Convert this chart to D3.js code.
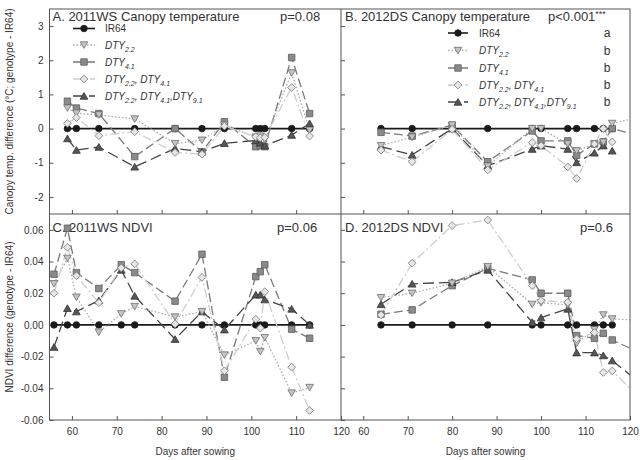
<!DOCTYPE html>
<html><head><meta charset="utf-8">
<script src="https://cdn.jsdelivr.net/npm/d3@7"></script>
<style>
body{margin:0;background:#fff}
text{font-family:Arial,"Liberation Sans",sans-serif;fill:#333}
</style>
</head><body>
<svg id="chart" width="640" height="460"></svg>
<script>
// ---------------- DATA ----------------
const seriesNames = ["IR64", "DTY2.2", "DTY4.1", "DTY2.2, DTY4.1", "DTY2.2, DTY4.1, DTY9.1"];
const sigLetters2012CT = ["a", "b", "b", "b", "b"];

// A. 2011WS canopy temperature
const daysWS_CT = [59, 61, 66, 74, 83, 89, 94, 101, 102, 103, 109, 113];
const ctWS_IR64 = [0, 0, 0, 0, 0, 0, 0, 0, 0, 0, 0, 0];
const ctWS_DTY22 = [0.6, 0.45, 0.4, 0.28, -0.44, -0.34, 0.1, -0.25, -0.22, -0.33, 1.63, -0.05];
const ctWS_DTY41 = [0.8, 0.6, 0.44, -0.82, 0.0, -0.68, 0.2, -0.53, -0.5, -0.53, 2.08, 0.44];
const ctWS_DTY22_41 = [0.15, 0.32, -0.21, -0.09, -0.7, -0.75, 0.07, -0.24, -0.27, -0.26, 1.2, -0.22];
const ctWS_DTY22_41_91 = [-0.29, -0.63, -0.54, -1.12, -0.58, -0.68, -0.43, -0.35, -0.42, -0.5, -0.19, 0.15];

// B. 2012DS canopy temperature
const daysDS = [64, 71, 80, 88, 98, 100, 106, 108, 112, 114, 116, 122];
const ctDS_IR64 = [0, 0, 0, 0, 0, 0, 0, 0, 0, 0, 0, null];
const ctDS_DTY22 = [-0.5, -0.25, 0.1, -1.1, 0.0, 0.0, -0.45, -0.65, -0.45, -0.4, 0.15, 0.33];
const ctDS_DTY41 = [-0.11, -0.22, 0.1, -0.97, -0.07, -0.36, -0.36, -0.78, -0.45, -0.39, 0.0, -0.21];
const ctDS_DTY22_41 = [-0.63, -0.97, -0.02, -1.21, -0.41, -0.5, -1.12, -1.46, -0.45, 0.0, -0.39, null];
const ctDS_DTY22_41_91 = [-0.53, -0.77, 0.0, -1.09, -0.6, -0.5, -0.6, -0.99, -0.71, -0.5, -0.65, null];

// C. 2011WS NDVI
const daysWS_ND = [56, 59, 61, 66, 71, 74, 83, 89, 94, 101, 102, 103, 109, 113];
const ndWS_IR64 = [0, 0, 0, 0, 0, 0, 0, 0, 0, 0, 0, 0, 0, 0];
const ndWS_DTY22 = [0.026, 0.042, 0.0175, -0.0046, 0.007, 0.0116, 0.005, 0.0084, -0.019, -0.01, -0.0168, -0.008, -0.043, -0.0395];
const ndWS_DTY41 = [0.032, 0.061, 0.033, 0.023, 0.038, 0.033, 0.015, 0.0446, -0.033, 0.0305, 0.0336, 0.038, -0.0027, -0.0084];
const ndWS_DTY22_41 = [0.020, 0.049, 0.031, 0.014, 0.036, 0.0385, 0.0006, 0.030, -0.029, 0.0036, -0.002, 0.021, -0.0267, -0.054];
const ndWS_DTY22_41_91 = [-0.014, 0.0105, 0.0084, 0.0154, 0.0347, 0.0183, -0.009, 0.0084, -0.003, 0.019, 0.019, 0.016, 0.0101, 0.0];

// D. 2012DS NDVI
const ndDS_IR64 = [0, 0, 0, 0, 0, 0, 0, 0, 0, 0, 0, null];
const ndDS_DTY22 = [0.0172, 0.020, 0.0263, 0.0368, 0.013, 0.014, 0.0126, -0.0116, -0.003, 0.0063, 0.0038, 0.003];
const ndDS_DTY41 = [0.0067, 0.0095, 0.0248, 0.0357, 0.0284, 0.020, 0.020, -0.0067, -0.0084, -0.0053, -0.0095, -0.0173];
const ndDS_DTY22_41 = [0.0063, 0.0389, 0.0627, 0.0662, 0.0248, 0.0154, 0.0143, -0.0088, -0.0048, -0.030, -0.029, -0.0455];
const ndDS_DTY22_41_91 = [0.013, 0.0259, 0.0269, 0.0347, 0.0017, 0.0046, 0.0101, -0.0175, -0.0175, -0.0193, -0.0225, -0.036];

const xTicks = [60, 70, 80, 90, 100, 110, 120];
const ctTicks = [-2, -1, 0, 1, 2, 3];
const ndTicks = [-0.06, -0.04, -0.02, 0, 0.02, 0.04, 0.06];

// ---------------- STYLES ----------------
const styles = [
  {line: "#1a1a1a", dash: null, lw: 1.6, sym: d3.symbolCircle, size: 34, fill: "#1a1a1a", stroke: "#1a1a1a", rot: 0, dy: 0},
  {line: "#ababab", dash: "1.5,2", lw: 1.3, sym: d3.symbolTriangle, size: 25, fill: "#c4c4c4", stroke: "#6e6e6e", rot: 180, dy: -1},
  {line: "#7a7a7a", dash: "9,4", lw: 1.3, sym: d3.symbolSquare, size: 42, fill: "#8a8a8a", stroke: "#5e5e5e", rot: 0, dy: 0},
  {line: "#cdcdcd", dash: "9,3,2,3", lw: 1.3, sym: d3.symbolSquare, size: 30, fill: "#e6e6e6", stroke: "#7e7e7e", rot: 45, dy: 0},
  {line: "#444", dash: "11,5", lw: 1.3, sym: d3.symbolTriangle, size: 26, fill: "#565656", stroke: "#333", rot: 0, dy: 1}
];
const drawOrder = [0, 2, 4, 1, 3];

// ---------------- LAYOUT ----------------
const svg = d3.select("#chart");
const X0 = 49.5, XM = 341, X1 = 630;
const Y0 = 9, YM = 214, Y1 = 420;

const panels = [
  {id: "A", x: [X0, XM], y: [Y0, YM], dom: [-2.5, 3.5], days: daysWS_CT,
   data: [ctWS_IR64, ctWS_DTY22, ctWS_DTY41, ctWS_DTY22_41, ctWS_DTY22_41_91],
   yTicks: ctTicks, yLabels: true, xLabels: false,
   title: "A. 2011WS Canopy temperature", p: "p=0.08", px: 280},
  {id: "B", x: [XM, X1], y: [Y0, YM], dom: [-2.5, 3.5], days: daysDS,
   data: [ctDS_IR64, ctDS_DTY22, ctDS_DTY41, ctDS_DTY22_41, ctDS_DTY22_41_91],
   yTicks: ctTicks, yLabels: false, xLabels: false,
   title: "B. 2012DS Canopy temperature", p: "p<0.001", pstar: "***", px: 548},
  {id: "C", x: [X0, XM], y: [YM, Y1], dom: [-0.06, 0.07], days: daysWS_ND,
   data: [ndWS_IR64, ndWS_DTY22, ndWS_DTY41, ndWS_DTY22_41, ndWS_DTY22_41_91],
   yTicks: ndTicks, yLabels: true, xLabels: true,
   title: "C. 2011WS NDVI", p: "p=0.06", px: 277},
  {id: "D", x: [XM, X1], y: [YM, Y1], dom: [-0.06, 0.07], days: daysDS,
   data: [ndDS_IR64, ndDS_DTY22, ndDS_DTY41, ndDS_DTY22_41, ndDS_DTY22_41_91],
   yTicks: ndTicks, yLabels: false, xLabels: true,
   title: "D. 2012DS NDVI", p: "p=0.6", px: 580}
];

function markerTransform(s, px, py) {
  return `translate(${px},${py + s.dy}) rotate(${s.rot})`;
}

panels.forEach(P => {
  const x = d3.scaleLinear().domain([55, 120]).range(P.x);
  const y = d3.scaleLinear().domain(P.dom).range([P.y[1], P.y[0]]);
  const g = svg.append("g");

  svg.append("clipPath").attr("id", "clip" + P.id).append("rect")
    .attr("x", P.x[0]).attr("y", P.y[0]).attr("width", P.x[1] - P.x[0]).attr("height", P.y[1] - P.y[0]);

  // axes
  const xa = g.append("g").attr("transform", `translate(0,${P.y[1]})`)
    .call(d3.axisBottom(x).tickValues(P.xLabels ? xTicks : xTicks.slice(0, 6)).tickSizeInner(-4).tickSizeOuter(0).tickPadding(8)
      .tickFormat(P.xLabels ? d3.format("d") : ""));
  xa.select(".domain").remove();
  xa.selectAll("line").attr("stroke", "#555");
  xa.selectAll("text").attr("font-size", 10).attr("fill", "#333").style("font-family", "Arial, 'Liberation Sans', sans-serif");

  const ya = g.append("g").attr("transform", `translate(${P.x[0]},0)`)
    .call(d3.axisLeft(y).tickValues(P.yTicks).tickSizeInner(-4).tickSizeOuter(0).tickPadding(6)
      .tickFormat(P.yLabels ? (P.dom[1] < 1 ? (d => d.toFixed(2)) : (d => String(d))) : ""));
  ya.select(".domain").remove();
  ya.selectAll("line").attr("stroke", "#555");
  ya.selectAll("text").attr("font-size", 10).attr("fill", "#333").style("font-family", "Arial, 'Liberation Sans', sans-serif");

  const plot = g.append("g").attr("clip-path", `url(#clip${P.id})`);
  const line = d3.line().defined(d => d[1] !== null).x(d => x(d[0])).y(d => y(d[1]));

  drawOrder.forEach(si => {
    const pts = P.days.map((d, i) => [d, P.data[si][i]]);
    const s = styles[si];
    plot.append("path").datum(pts).attr("d", line).attr("fill", "none")
      .attr("stroke", s.line).attr("stroke-width", s.lw).attr("stroke-dasharray", s.dash);
  });
  drawOrder.forEach(si => {
    const pts = P.days.map((d, i) => [d, P.data[si][i]]).filter(d => d[1] !== null);
    const s = styles[si];
    plot.selectAll(null).data(pts).enter().append("path")
      .attr("d", d3.symbol().type(s.sym).size(s.size))
      .attr("transform", d => markerTransform(s, x(d[0]), y(d[1])))
      .attr("fill", s.fill).attr("stroke", s.stroke).attr("stroke-width", 0.8);
  });

  // titles
  const ty = P.y[0] + (P.id === "A" || P.id === "B" ? 11.5 : 18);
  g.append("text").attr("x", P.x[0] + (P.id === "B" || P.id === "D" ? 4 : 3)).attr("y", ty)
    .attr("font-size", 13).text(P.title);
  const pt = g.append("text").attr("x", P.px).attr("y", ty).attr("font-size", 13).text(P.p);
  if (P.pstar) pt.append("tspan").attr("font-size", 9).attr("dy", -4).text(P.pstar);
});

// frame
const frame = svg.append("g").attr("stroke", "#555").attr("stroke-width", 1).attr("fill", "none");
frame.append("rect").attr("x", X0).attr("y", Y0).attr("width", X1 - X0).attr("height", Y1 - Y0);
frame.append("line").attr("x1", XM).attr("x2", XM).attr("y1", Y0).attr("y2", Y1);
frame.append("line").attr("x1", X0).attr("x2", X1).attr("y1", YM).attr("y2", YM);

// legends
function labelText(sel, name) {
  if (name === "IR64") { sel.text(name); return; }
  const parts = name.split(",").map(s => s.trim());
  parts.forEach((p, i) => {
    const sub = p.replace("DTY", "");
    const pre = i === 0 ? "DTY" : (i === 2 ? ",DTY" : ", DTY");
    sel.append("tspan").attr("font-style", "italic").attr("dy", i === 0 ? 0 : -3).text(pre);
    sel.append("tspan").attr("font-style", "italic").attr("font-size", 7).attr("dy", 3).text(sub);
  });
}
function legend(rows, lx0, lx1, tx, letters, lettersX) {
  seriesNames.forEach((name, i) => {
    const s = styles[i];
    const cy = rows[i];
    svg.append("line").attr("x1", lx0).attr("x2", lx1).attr("y1", cy).attr("y2", cy)
      .attr("stroke", s.line).attr("stroke-width", s.lw).attr("stroke-dasharray", s.dash);
    svg.append("path").attr("d", d3.symbol().type(s.sym).size(s.size)())
      .attr("transform", markerTransform(s, (lx0 + lx1) / 2, cy))
      .attr("fill", s.fill).attr("stroke", s.stroke).attr("stroke-width", 0.8);
    const t = svg.append("text").attr("x", tx).attr("y", cy + 3.5).attr("font-size", 10);
    labelText(t, name);
    if (letters) {
      svg.append("text").attr("x", lettersX).attr("y", cy + 4).attr("font-size", 12)
        .attr("text-anchor", "middle").text(letters[i]);
    }
  });
}
legend([28.5, 45, 62, 79, 96], 73, 95, 105, null, 0);
legend([33, 50.5, 68, 85, 102], 448, 468, 479, sigLetters2012CT, 607);

// axis titles
svg.append("text").attr("transform", "translate(13,111.5) rotate(-90)").attr("text-anchor", "middle")
  .attr("font-size", 10).text("Canopy temp. difference (°C; genotype - IR64)");
svg.append("text").attr("transform", "translate(13,317) rotate(-90)").attr("text-anchor", "middle")
  .attr("font-size", 10).text("NDVI difference (genotype - IR64)");
svg.append("text").attr("x", (X0 + XM) / 2).attr("y", 455).attr("text-anchor", "middle")
  .attr("font-size", 10).text("Days after sowing");
svg.append("text").attr("x", (XM + X1) / 2).attr("y", 455).attr("text-anchor", "middle")
  .attr("font-size", 10).text("Days after sowing");
</script>
</body></html>
